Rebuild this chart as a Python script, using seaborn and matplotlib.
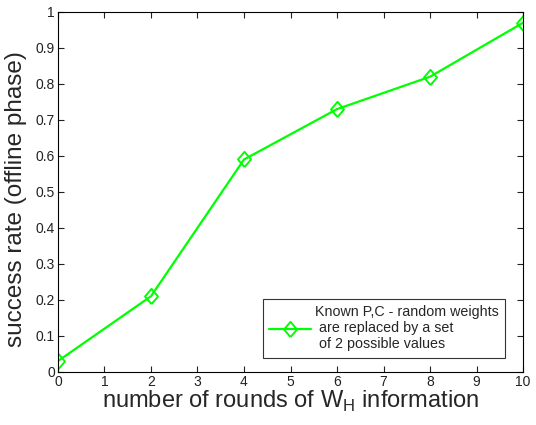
import matplotlib
matplotlib.use('Agg')
import matplotlib.pyplot as plt
import seaborn as sns
import pandas as pd

rounds = [0, 2, 4, 6, 8, 10]
success = [0.03, 0.21, 0.59, 0.73, 0.82, 0.97]
x_ticks = list(range(0, 11))
y_ticks = [0, 0.1, 0.2, 0.3, 0.4, 0.5, 0.6, 0.7, 0.8, 0.9, 1]
y_labels = ['0', '0.1', '0.2', '0.3', '0.4', '0.5', '0.6', '0.7', '0.8', '0.9', '1']
label = 'Known P,C - random weights\n are replaced by a set\n of 2 possible values'

sns.set_theme(style="white")
plt.rcParams['font.family'] = ['Liberation Sans', 'DejaVu Sans']

df = pd.DataFrame({'rounds': rounds, 'success': success})

# matlab style diamond, a bit taller than wide
diamond = [(0, -1), (0.85, 0), (0, 1), (-0.85, 0), (0, -1)]

fig = plt.figure(figsize=(5.36, 4.25), dpi=100)
ax = fig.add_axes([0.108, 0.125, 0.868, 0.847])
sns.lineplot(data=df, x='rounds', y='success', ax=ax, color='#00ff00', lw=1.6,
             marker=diamond, markersize=11, markerfacecolor='none',
             markeredgecolor='#00ff00', markeredgewidth=1.4, label=label)

ax.set_xlim(0, 10)
ax.set_ylim(0, 1)
ax.set_xticks(x_ticks)
ax.set_yticks(y_ticks)
ax.set_yticklabels(y_labels)
ax.tick_params(direction='in', length=4, width=0.8, labelsize=10, colors='#222222',
               top=True, right=True, bottom=True, left=True, pad=2)
for s in ax.spines.values():
    s.set_color('black')
    s.set_linewidth(0.8)
ax.set_xlabel('number of rounds of W$_\\mathregular{H}$ information', fontsize=17, labelpad=0)
ax.set_ylabel('success rate (offline phase)', fontsize=17.5)
ax.yaxis.set_label_coords(-0.066, 0.48)

leg = ax.legend(loc='lower right', bbox_to_anchor=(0.961, 0.039), borderaxespad=0,
                fontsize=10.3, frameon=True, fancybox=False, borderpad=0.45,
                handlelength=2.9, handletextpad=0.3, labelspacing=0.3)
leg.get_frame().set_edgecolor('black')
leg.get_frame().set_linewidth(0.8)

fig.savefig('out.png', dpi=100)
